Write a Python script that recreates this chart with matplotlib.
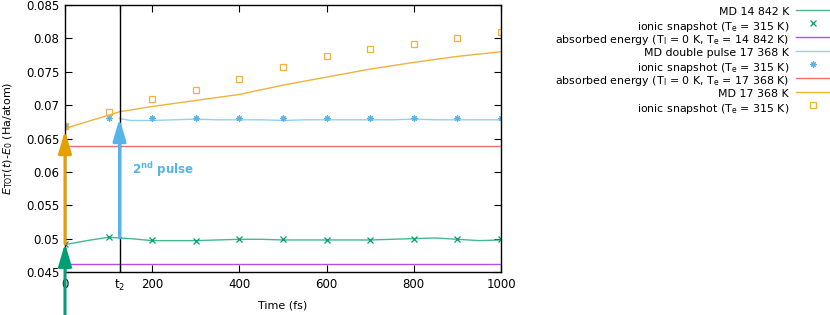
import matplotlib
matplotlib.use("Agg")
import matplotlib.pyplot as plt
from matplotlib.lines import Line2D

# ---- data ----
t2 = 125
md1_t = [0, 50, 100, 125, 150, 200, 250, 300, 350, 400, 450, 500, 550, 600, 650, 700, 750, 800, 850, 900, 950, 1000]
md1_e = [0.0491, 0.0497, 0.0502, 0.0501, 0.0500, 0.0497, 0.0497, 0.0497, 0.0498, 0.0499, 0.0499, 0.0498,
         0.0498, 0.0498, 0.0498, 0.0498, 0.0499, 0.0500, 0.0501, 0.0499, 0.0497, 0.0498]

snap_t = [0, 100, 200, 300, 400, 500, 600, 700, 800, 900, 1000]
snap1_e = [0.0492, 0.0502, 0.0498, 0.0497, 0.0499, 0.0499, 0.0498, 0.0498, 0.0500, 0.0500, 0.0499]
abs1_e = 0.0462

md2_t = [125, 150, 200, 250, 300, 350, 400, 450, 500, 550, 600, 650, 700, 750, 800, 850, 900, 950, 1000]
md2_e = [0.0680, 0.0677, 0.0677, 0.0678, 0.0679, 0.0678, 0.0678, 0.0678, 0.0677, 0.0678, 0.0678, 0.0678,
         0.0678, 0.0678, 0.0679, 0.0678, 0.0678, 0.0678, 0.0678]
snap2_e = [0.0668, 0.0680, 0.0680, 0.0681, 0.0681, 0.0680, 0.0681, 0.0680, 0.0681, 0.0681, 0.0680]
abs2_e = 0.0639

md3_t = [0, 50, 100, 125, 200, 300, 400, 500, 600, 700, 800, 900, 1000]
md3_e = [0.0665, 0.0675, 0.0685, 0.0690, 0.0698, 0.0707, 0.0716, 0.0730, 0.0742, 0.0754, 0.0764, 0.0773, 0.0780]
snap3_e = [0.0669, 0.0690, 0.0709, 0.0723, 0.0739, 0.0757, 0.0773, 0.0784, 0.0792, 0.0800, 0.0809]

xticks = [0, t2, 200, 400, 600, 800, 1000]
xticklabels = ['0', r'$\mathrm{t}_2$', '200', '400', '600', '800', '1000']
yticks = [0.045, 0.05, 0.055, 0.06, 0.065, 0.07, 0.075, 0.08, 0.085]
yticklabels = ['0.045', '0.05', '0.055', '0.06', '0.065', '0.07', '0.075', '0.08', '0.085']

labels = ['MD 14 842 K', r'ionic snapshot (T$_\mathrm{e}$ = 315 K)',
          r'absorbed energy (T$_\mathrm{I}$ = 0 K, T$_\mathrm{e}$ = 14 842 K)',
          'MD double pulse 17 368 K', r'ionic snapshot (T$_\mathrm{e}$ = 315 K)',
          r'absorbed energy (T$_\mathrm{I}$ = 0 K, T$_\mathrm{e}$ = 17 368 K)',
          'MD 17 368 K', r'ionic snapshot (T$_\mathrm{e}$ = 315 K)']

# ---- colors ----
c_green = '#009e73'
c_green_l = '#45b890'
c_purple = '#b84ce8'
c_blue = '#56b4e9'
c_blue_l = '#93d0f0'
c_red = '#f07070'
c_orange = '#e69f00'
c_orange_l = '#efb23a'

plt.rcParams['font.family'] = ['DejaVu Sans']
plt.rcParams['font.size'] = 8

W, H = 830, 315
fig = plt.figure(figsize=(8.3, 3.15), dpi=100)
ax = fig.add_axes([65/W, 1 - 272/H, (501 - 65)/W, (272 - 5)/H])

styles = [
    dict(color=c_green_l, lw=1.0),
    dict(ls='none', marker='x', ms=4, mew=0.9, color=c_green),
    dict(color=c_purple, lw=1.0),
    dict(color=c_blue_l, lw=1.0),
    dict(ls='none', marker=(8, 2, 0), ms=4.6, mew=0.8, color=c_blue),
    dict(color=c_red, lw=1.0),
    dict(color=c_orange_l, lw=1.0),
    dict(ls='none', marker='s', ms=4.2, mew=0.9, mfc='none', color=c_orange_l),
]

ax.plot(md1_t, md1_e, **styles[0])
ax.plot(snap_t, snap1_e, **styles[1])
ax.plot([0, 1000], [abs1_e, abs1_e], **styles[2])
ax.plot(md2_t, md2_e, **styles[3])
ax.plot(snap_t, snap2_e, **styles[4])
ax.plot([0, 1000], [abs2_e, abs2_e], **styles[5])
ax.plot(md3_t, md3_e, **styles[6])
ax.plot(snap_t, snap3_e, **styles[7])

ax.axvline(t2, color='black', lw=1.0)

ap = dict(arrowstyle='-|>,head_length=0.75,head_width=0.22', lw=2.2, mutation_scale=18,
          shrinkA=0, shrinkB=0)
ax.annotate('', xy=(0, 0.0493), xytext=(0, 0.0386), annotation_clip=False,
            arrowprops=dict(ap, color=c_green), zorder=5)
ax.annotate('', xy=(0, 0.0662), xytext=(0, 0.0492), annotation_clip=False,
            arrowprops=dict(ap, color=c_orange), zorder=5)
ax.annotate('', xy=(t2, 0.0680), xytext=(t2, 0.0501), annotation_clip=False,
            arrowprops=dict(ap, color=c_blue), zorder=5)

ax.text(154, 0.0603, r'2$^{\mathbf{nd}}$ pulse', color=c_blue, fontsize=8.6,
        fontweight='bold', va='center', ha='left')

ax.set_xlim(0, 1000)
ax.set_ylim(0.045, 0.085)
ax.set_xticks(xticks)
ax.set_xticklabels(xticklabels)
ax.set_yticks(yticks)
ax.set_yticklabels(yticklabels)
ax.tick_params(direction='in', top=True, right=True, length=5, width=0.8, labelsize=8.5, pad=4)
ax.set_xlabel('Time (fs)', fontsize=8, labelpad=6)
ax.set_ylabel(r'$E_{\mathrm{TOT}}(t)$-$E_0$ (Ha/atom)', fontsize=8, labelpad=8)
for s in ax.spines.values():
    s.set_linewidth(1.0)

# ---- gnuplot-style key (text right-aligned, sample on the right) ----
row0, drow = 11, 13.7
for i, (lab, st) in enumerate(zip(labels, styles)):
    yc = 1 - (row0 + drow * i) / H
    fig.text(789 / W, yc, lab, ha='right', va='center_baseline', fontsize=7.9)
    if st.get('ls') == 'none':
        fig.add_artist(Line2D([813 / W], [yc + 1.5 / H], transform=fig.transFigure, **st))
    else:
        fig.add_artist(Line2D([796 / W, 830 / W], [yc + 1.5 / H, yc + 1.5 / H],
                              transform=fig.transFigure, **st))

fig.savefig('out.png', dpi=100)
